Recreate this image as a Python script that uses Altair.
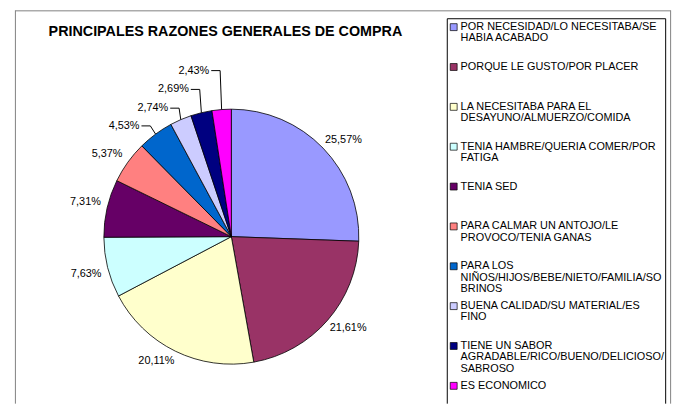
import altair as alt
import pandas as pd
import numpy as np

title_text = "PRINCIPALES RAZONES GENERALES DE COMPRA"

categories = [
    "POR NECESIDAD/LO NECESITABA/SE HABIA ACABADO",
    "PORQUE LE GUSTO/POR PLACER",
    "LA NECESITABA PARA EL DESAYUNO/ALMUERZO/COMIDA",
    "TENIA HAMBRE/QUERIA COMER/POR FATIGA",
    "TENIA SED",
    "PARA CALMAR UN ANTOJO/LE PROVOCO/TENIA GANAS",
    "PARA LOS NIÑOS/HIJOS/BEBE/NIETO/FAMILIA/SOBRINOS",
    "BUENA CALIDAD/SU MATERIAL/ES FINO",
    "TIENE UN SABOR AGRADABLE/RICO/BUENO/DELICIOSO/SABROSO",
    "ES ECONOMICO",
]
values = [25.57, 21.61, 20.11, 7.63, 7.31, 5.37, 4.53, 2.74, 2.69, 2.43]
colors = ["#9999FF", "#993366", "#FFFFCC", "#CCFFFF", "#660066",
          "#FF8080", "#0066CC", "#CCCCFF", "#000080", "#FF00FF"]
legend_lines = [
    ["POR NECESIDAD/LO NECESITABA/SE", "HABIA ACABADO"],
    ["PORQUE LE GUSTO/POR PLACER"],
    ["LA NECESITABA PARA EL", "DESAYUNO/ALMUERZO/COMIDA"],
    ["TENIA HAMBRE/QUERIA COMER/POR", "FATIGA"],
    ["TENIA SED"],
    ["PARA CALMAR UN ANTOJO/LE", "PROVOCO/TENIA GANAS"],
    ["PARA LOS", "NIÑOS/HIJOS/BEBE/NIETO/FAMILIA/SO", "BRINOS"],
    ["BUENA CALIDAD/SU MATERIAL/ES", "FINO"],
    ["TIENE UN SABOR", "AGRADABLE/RICO/BUENO/DELICIOSO/", "SABROSO"],
    ["ES ECONOMICO"],
]

# ---------- layout (chart pixel coordinates) ----------
W, H = 680, 398
CX, CY, R = 226, 229, 129
FONT = "Liberation Sans, Arial, sans-serif"
# leader-line layout for the small slices: (x shift, lift) of the elbow
leader = [None] * 6 + [(-5.3, 8.3), (-1.7, 11.6), (-1.7, 23.6), (-1.5, 39.4)]
LEG_SQ_X, LEG_TX_X, LEG_Y0, LEG_STEP, LEG_LH = 451, 458, 17, 40.33, 11.5

def fmt(v):
    return f"{v:.2f}".replace(".", ",") + "%"

# ---------- pie ----------
pie_df = pd.DataFrame({"cat": categories, "value": values, "idx": range(len(values))})
arcs = alt.Chart(pie_df).mark_arc(outerRadius=R, stroke="black", strokeWidth=0.8).encode(
    theta=alt.Theta("value:Q", stack=True),
    order=alt.Order("idx:Q"),
    color=alt.Color("cat:N", scale=alt.Scale(domain=categories, range=colors), legend=None),
    x=alt.value(CX), y=alt.value(CY),
)

# ---------- data labels ----------
vals = np.array(values)
total = vals.sum()
cum = np.concatenate([[0], np.cumsum(vals)[:-1]])
mid = (cum + vals / 2) / total * 2 * np.pi
ux, uy = np.sin(mid), -np.cos(mid)

lab_rows, line_rows = [], []
for i, v in enumerate(values):
    if leader[i] is None:
        tx = CX + (R + 5) * ux[i] + 17 * np.sign(ux[i])
        ty = CY + (R + 5) * uy[i] + 5 * np.sign(uy[i])
        lab_rows.append({"tx": tx, "ty": ty, "t": fmt(v), "al": "c"})
    else:
        ex, ey = CX + R * ux[i], CY + R * uy[i]
        sx, lift = leader[i]
        bx, by = ex + sx, ey - lift
        lab_rows.append({"tx": bx - 11, "ty": by, "t": fmt(v), "al": "r"})
        for k, (px, py) in enumerate([(bx - 9, by), (bx, by), (ex, ey)]):
            line_rows.append({"lab": i, "k": k, "px": px, "py": py})

lab_df = pd.DataFrame(lab_rows)
lab_c = alt.Chart(lab_df[lab_df.al == "c"]).mark_text(
    font=FONT, fontSize=11, color="black", align="center", baseline="middle"
).encode(x=alt.X("tx:Q", scale=None), y=alt.Y("ty:Q", scale=None), text="t:N")
lab_r = alt.Chart(lab_df[lab_df.al == "r"]).mark_text(
    font=FONT, fontSize=11, color="black", align="right", baseline="middle"
).encode(x=alt.X("tx:Q", scale=None), y=alt.Y("ty:Q", scale=None), text="t:N")

leaders = alt.Chart(pd.DataFrame(line_rows)).mark_line(color="black", strokeWidth=1).encode(
    x=alt.X("px:Q", scale=None), y=alt.Y("py:Q", scale=None),
    detail="lab:N", order="k:Q",
)

# ---------- legend ----------
leg_sq, leg_tx = [], []
for i, lines in enumerate(legend_lines):
    y0 = LEG_Y0 + LEG_STEP * i
    leg_sq.append({"cat": categories[i], "sx": LEG_SQ_X, "sy": y0})
    for j, ln in enumerate(lines):
        leg_tx.append({"lx": LEG_TX_X, "ly": y0 + LEG_LH * j, "t": ln})

legend_sq = alt.Chart(pd.DataFrame(leg_sq)).mark_square(
    size=49, stroke="black", strokeWidth=0.7, opacity=1
).encode(
    x=alt.X("sx:Q", scale=None), y=alt.Y("sy:Q", scale=None),
    fill=alt.Fill("cat:N", scale=alt.Scale(domain=categories, range=colors), legend=None),
)
legend_tx = alt.Chart(pd.DataFrame(leg_tx)).mark_text(
    font=FONT, fontSize=11, color="black", align="left", baseline="middle"
).encode(x=alt.X("lx:Q", scale=None), y=alt.Y("ly:Q", scale=None), text="t:N")

# ---------- title & frames ----------
one = pd.DataFrame({"a": [0]})
title = alt.Chart(one).mark_text(
    font=FONT, fontSize=14.5, fontWeight="bold", color="black", align="center", baseline="middle"
).encode(x=alt.value(220), y=alt.value(22), text=alt.value(title_text))

def rule(x, x2, y, y2, color):
    return alt.Chart(one).mark_rule(color=color, strokeWidth=1).encode(
        x=alt.value(x), x2=alt.value(x2), y=alt.value(y), y2=alt.value(y2))

frames = [
    rule(7.5, 7.5, 0, H, "#808080"),
    rule(7.5, 670.5, 0.5, 0.5, "#808080"),
    rule(670.5, 670.5, 0, H, "#808080"),
    rule(444.5, 444.5, 8.5, H, "#000000"),
    rule(444.5, 665.5, 8.5, 8.5, "#000000"),
    rule(665.5, 665.5, 8.5, H, "#000000"),
]

chart = alt.layer(
    arcs, leaders, lab_c, lab_r, legend_sq, legend_tx, title, *frames
).resolve_scale(color="independent").properties(
    width=W, height=H, padding=0, background="white",
    autosize=alt.AutoSizeParams(type="none"),
).configure_view(strokeWidth=0)

chart.save("out.html", embed_options={"renderer": "svg", "actions": False})
